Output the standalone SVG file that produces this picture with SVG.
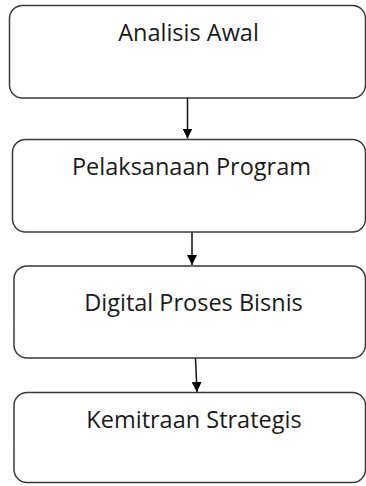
<svg xmlns="http://www.w3.org/2000/svg" width="366" height="486" viewBox="0 0 366 486">
  <style>
    .box { fill: #ffffff; stroke: #3a3a3a; stroke-width: 1.5; }
    .label { font-family: "Open Sans", "Liberation Sans", sans-serif; font-size: 23.5px; fill: #1a1a1a; text-anchor: middle; }
    .link { stroke: #111111; stroke-width: 1.5; fill: none; marker-end: url(#head); }
  </style>
  <defs>
    <marker id="head" viewBox="0 0 10 10" refX="10" refY="5" markerWidth="10" markerHeight="10" markerUnits="userSpaceOnUse" orient="auto">
      <path d="M0,0 L10,5 L0,10 Z" fill="#000000"/>
    </marker>
  </defs>
  <rect x="0" y="0" width="366" height="486" fill="#ffffff"/>

  <g id="connectors">
    <line class="link" x1="187.5" y1="98" x2="187.5" y2="138.5"/>
    <line class="link" x1="192" y1="232" x2="192" y2="265"/>
    <line class="link" x1="195.5" y1="358" x2="197" y2="392"/>
  </g>

  <g id="node-analisis-awal">
    <rect class="box" x="9.5" y="5.5" width="356" height="92.5" rx="13"/>
    <text class="label" x="188.5" y="41">Analisis Awal</text>
  </g>

  <g id="node-pelaksanaan-program">
    <rect class="box" x="12.5" y="139.5" width="353" height="92.5" rx="13"/>
    <text class="label" x="191.5" y="175">Pelaksanaan Program</text>
  </g>

  <g id="node-digital-proses-bisnis">
    <rect class="box" x="14" y="266" width="351.5" height="92" rx="13"/>
    <text class="label" x="193.5" y="311">Digital Proses Bisnis</text>
  </g>

  <g id="node-kemitraan-strategis">
    <rect class="box" x="14" y="392.5" width="351.5" height="90" rx="13"/>
    <text class="label" x="194" y="428">Kemitraan Strategis</text>
  </g>
</svg>
